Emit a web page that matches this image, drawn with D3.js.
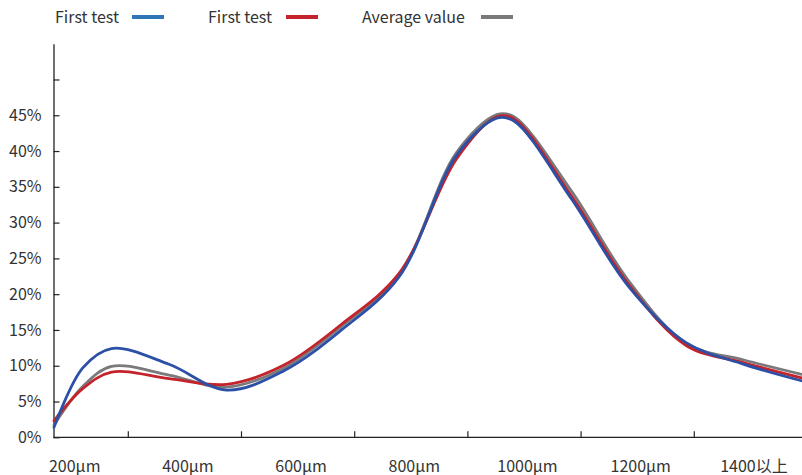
<!DOCTYPE html>
<html>
<head>
<meta charset="utf-8">
<script src="https://cdn.jsdelivr.net/npm/d3@7"></script>
<style>
  html, body { margin: 0; padding: 0; background: #fff; }
  svg text { font-family: "Noto Sans CJK SC", "Noto Sans", sans-serif; fill: #333; }
</style>
</head>
<body>
<svg id="chart" width="802" height="475"></svg>
<script>
// ---- data ----
const categories = ["200µm", "400µm", "600µm", "800µm", "1000µm", "1200µm", "1400以上"];
const pointIndex    = [0, 0.5, 1, 2, 3, 4, 5, 6, 7, 7.7, 8, 9, 10, 11, 12, 13];
const firstTestBlue = [1.4, 9.7, 12.4, 10.2, 6.6, 9.3, 15.0, 22.4, 39.4, 44.6, 44.2, 33.3, 21.0, 13.2, 10.2, 7.9];
const firstTestRed  = [2.3, 6.8, 9.1, 8.2, 7.4, 10.1, 15.8, 22.9, 38.9, 44.8, 44.5, 33.7, 21.3, 12.8, 10.4, 8.3];
const averageValue  = [1.7, 7.1, 9.9, 8.7, 7.0, 9.7, 15.5, 22.6, 39.8, 45.1, 44.8, 34.4, 21.8, 13.1, 10.8, 8.8];
const yTicks = [0, 5, 10, 15, 20, 25, 30, 35, 40, 45, 50];
const seriesNames = ["First test", "First test", "Average value"];

const series = [
  { name: seriesNames[0], values: firstTestBlue, line: "#2b50a6", swatch: "#2e75b6" },
  { name: seriesNames[1], values: firstTestRed,  line: "#c4232b", swatch: "#c4232b" },
  { name: seriesNames[2], values: averageValue,  line: "#7a7a7c", swatch: "#7a7a7c" }
];

const svg = d3.select("#chart");
const axisX0 = 53.5;

const y = d3.scaleLinear().domain([0, 55]).range([437.3, 43.7]);
const xData = d3.scaleLinear().domain([0, 13]).range([54, 801.5]);
const xCat = d3.scaleBand().domain(categories).range([15.1, 807.5]).padding(0);

// ---- y axis ----
const yAxis = d3.axisLeft(y)
  .tickValues(yTicks)
  .tickSizeInner(-6)
  .tickSizeOuter(0)
  .tickPadding(12)
  .tickFormat(d => d === 50 ? "" : d + "%");
const gy = svg.append("g").attr("transform", `translate(${axisX0},0)`).call(yAxis);
gy.select(".domain").attr("stroke", "#222").attr("stroke-width", 1.3);
gy.selectAll(".tick line").attr("stroke", "#222").attr("stroke-width", 1.2);
gy.selectAll(".tick text").style("font-size", "16px").attr("fill", "#333");

// ---- x axis ----
const gx = svg.append("g");
gx.append("line")
  .attr("x1", axisX0).attr("x2", 802)
  .attr("y1", y(0)).attr("y2", y(0))
  .attr("stroke", "#222").attr("stroke-width", 1.3);
gx.selectAll("line.tk")
  .data(categories.slice(1))
  .join("line")
  .attr("class", "tk")
  .attr("x1", d => xCat(d)).attr("x2", d => xCat(d))
  .attr("y1", y(0)).attr("y2", y(0) - 6)
  .attr("stroke", "#222").attr("stroke-width", 1.2);
gx.selectAll("text")
  .data(categories)
  .join("text")
  .attr("x", d => xCat(d) + xCat.bandwidth() / 2 + 3)
  .attr("y", 471.5)
  .attr("text-anchor", "middle")
  .style("font-size", "16px")
  .text(d => d);

// ---- lines ----
const line = d3.line()
  .x((d, i) => xData(pointIndex[i]))
  .y(d => y(d))
  .curve(d3.curveCatmullRom.alpha(0.5));

const order = [2, 1, 0];
svg.append("g")
  .selectAll("path")
  .data(order.map(i => series[i]))
  .join("path")
  .attr("d", d => line(d.values))
  .attr("fill", "none")
  .attr("stroke", d => d.line)
  .attr("stroke-width", 2.8)
  .attr("stroke-linejoin", "round")
  .attr("stroke-linecap", "round");

// ---- legend ----
const legendPos = [
  { tx: 55, sx: 132, sw: 32 },
  { tx: 208, sx: 286, sw: 32 },
  { tx: 362, sx: 481, sw: 32 }
];
const lg = svg.append("g");
series.forEach((s, i) => {
  const p = legendPos[i];
  lg.append("text").attr("x", p.tx).attr("y", 23).style("font-size", "16px").text(s.name);
  lg.append("line")
    .attr("x1", p.sx).attr("x2", p.sx + p.sw)
    .attr("y1", 17).attr("y2", 17)
    .attr("stroke", s.swatch).attr("stroke-width", 4);
});
</script>
</body>
</html>
